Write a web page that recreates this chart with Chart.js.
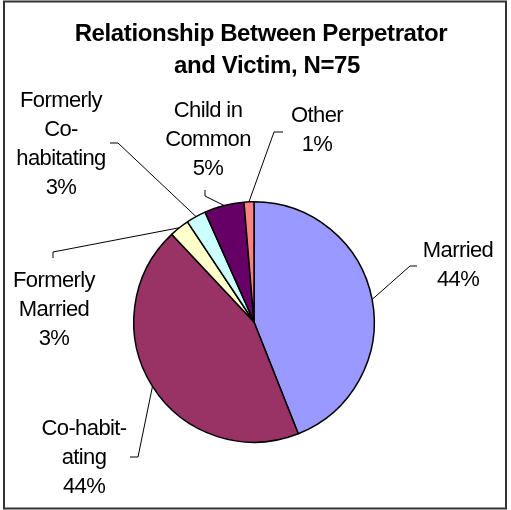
<!DOCTYPE html>
<html>
<head>
<meta charset="utf-8">
<script src="https://cdn.jsdelivr.net/npm/chart.js@4"></script>
<style>
  body { margin: 0; background: #fff; }
  canvas { display: block; }
</style>
</head>
<body>
<canvas id="chart" width="511" height="510"></canvas>
<script>
// data
var categories = ["Married", "Co-habitating", "Formerly Married", "Formerly Co-habitating", "Child in Common", "Other"];
var counts = [33, 33, 2, 2, 4, 1]; // N=75
var labelLines = [["Married"], ["Co-habit-", "ating"], ["Formerly", "Married"], ["Formerly", "Co-", "habitating"], ["Child in", "Common"], ["Other"]];
var colors = ["#9999FF", "#993366", "#FFFFCC", "#CCFFFF", "#660066", "#FF8080"];
var titleLines = ["Relationship Between Perpetrator", "and Victim, N=75"];

// where each label sits (center x, first baseline) and the leader elbow points
var labelPos = [
  { x: 458, y: 257, leader: [[417, 266], [410, 266]] },
  { x: 84, y: 435, leader: [[130, 457], [138, 457]] },
  { x: 54, y: 287, leader: [[53, 258], [53, 252]] },
  { x: 61, y: 107, leader: [[110, 143], [118, 143]] },
  { x: 208, y: 117, leader: [[205, 190], [205, 196]] },
  { x: 317, y: 122, leader: [[283, 132], [274, 132]] },
];

var total = counts.reduce(function (a, b) { return a + b; }, 0);

var labelsPlugin = {
  id: "excelLabels",
  afterDraw: function (chart) {
    var ctx = chart.ctx;
    ctx.save();

    // outer frame
    ctx.strokeStyle = "#333";
    ctx.lineWidth = 2;
    ctx.strokeRect(4, 1.5, 502, 507);

    // title
    ctx.fillStyle = "#000";
    ctx.textAlign = "center";
    ctx.font = "bold 24px 'Liberation Sans', Arial, sans-serif";
    ctx.letterSpacing = "-0.4px";
    ctx.fillText(titleLines[0], 261, 41);
    ctx.fillText(titleLines[1], 267, 73);

    // leader lines + data labels
    var arcs = chart.getDatasetMeta(0).data;
    ctx.font = "22px 'Liberation Sans', Arial, sans-serif";
    ctx.letterSpacing = "-0.6px";
    arcs.forEach(function (arc, i) {
      var p = arc.getProps(["x", "y", "startAngle", "endAngle", "outerRadius"], true);
      var mid = (p.startAngle + p.endAngle) / 2;
      var ex = p.x + Math.cos(mid) * p.outerRadius;
      var ey = p.y + Math.sin(mid) * p.outerRadius;
      var lp = labelPos[i];

      ctx.strokeStyle = "#000";
      ctx.lineWidth = 1;
      ctx.beginPath();
      ctx.moveTo(lp.leader[0][0], lp.leader[0][1]);
      for (var k = 1; k < lp.leader.length; k++) ctx.lineTo(lp.leader[k][0], lp.leader[k][1]);
      ctx.lineTo(ex, ey);
      ctx.stroke();

      var lines = labelLines[i].concat([Math.round(counts[i] / total * 100) + "%"]);
      lines.forEach(function (t, j) {
        ctx.fillText(t, lp.x, lp.y + j * 29);
      });
    });
    ctx.restore();
  },
};

new Chart(document.getElementById("chart"), {
  type: "pie",
  data: {
    labels: categories,
    datasets: [
      {
        data: counts,
        backgroundColor: colors,
        borderColor: "#000",
        borderWidth: 1.5,
        hoverOffset: 0,
      },
    ],
  },
  options: {
    responsive: false,
    devicePixelRatio: 1,
    animation: false,
    layout: {
      padding: { left: 133, right: 136, top: 201, bottom: 67 },
    },
    plugins: {
      legend: { display: false },
      tooltip: { enabled: false },
      title: { display: false },
    },
  },
  plugins: [labelsPlugin],
});
</script>
</body>
</html>
